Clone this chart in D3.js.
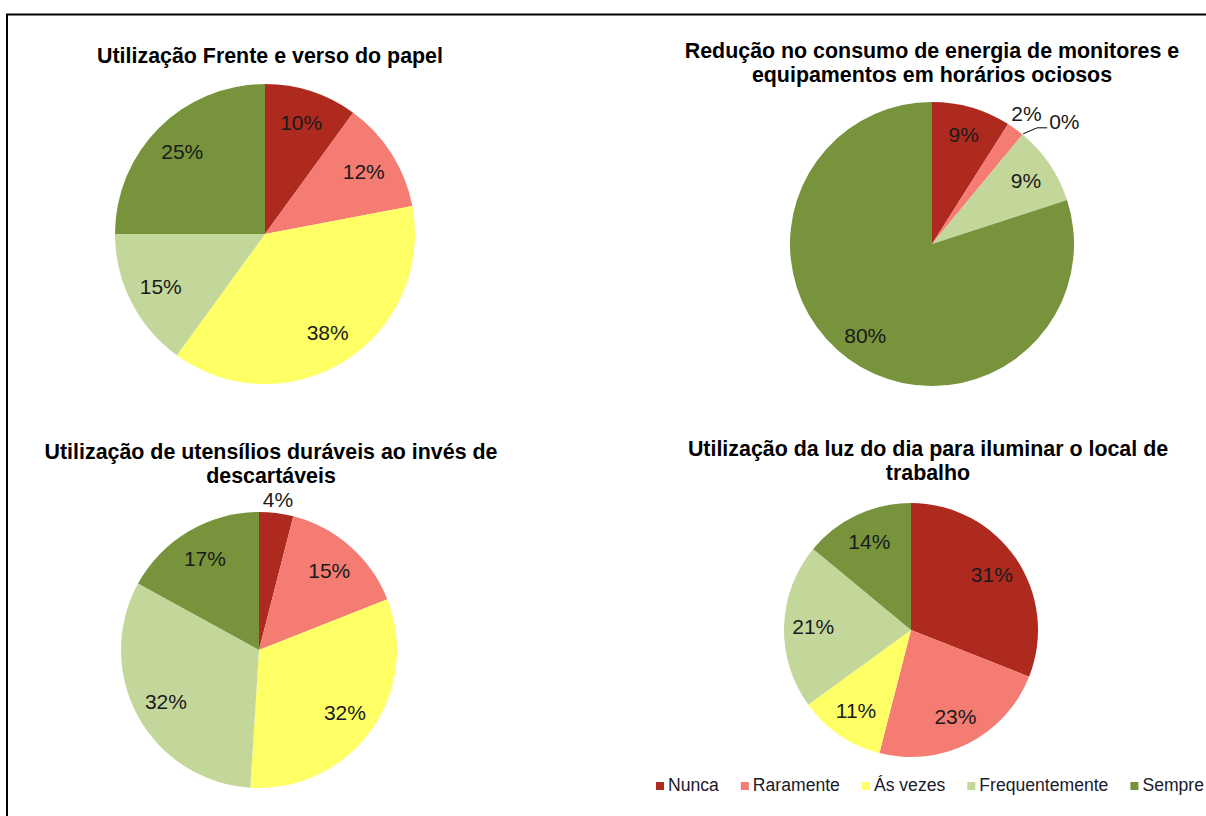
<!DOCTYPE html>
<html>
<head>
<meta charset="utf-8">
<script src="https://cdn.jsdelivr.net/npm/d3@7"></script>
<style>
  body { margin: 0; background: #fff; }
  text { font-family: "Liberation Sans", Arial, sans-serif; }
</style>
</head>
<body>
<div id="chart"></div>
<script>
// categories and colours shared by all four pies
const categories = ["Nunca", "Raramente", "Ás vezes", "Frequentemente", "Sempre"];
const colors = ["#AE2A1F", "#F47C72", "#FFFF66", "#C4D79B", "#77933C"];

const chartTitles = [
    ["Utilização Frente e verso do papel"],
    ["Redução no consumo de energia de monitores e", "equipamentos em horários ociosos"],
    ["Utilização de utensílios duráveis ao invés de", "descartáveis"],
    ["Utilização da luz do dia para iluminar o local de", "trabalho"]
];

// percentages, in category order
const valuesPapel = [10, 12, 38, 15, 25];
const valuesEnergia = [9, 2, 0, 9, 80];
const valuesUtensilios = [4, 15, 32, 32, 17];
const valuesLuz = [31, 23, 11, 21, 14];
const allValues = [valuesPapel, valuesEnergia, valuesUtensilios, valuesLuz];

const width = 1206, height = 816;

// where each pie sits on the page
const layout = [
    {cx: 265, cy: 234, r: 150, lr: 0.78, tx: 270, ty: 63},
    {cx: 932, cy: 244, r: 142, lr: 0.8, tx: 932, ty: 58},
    {cx: 259, cy: 650, r: 138, lr: 0.77, tx: 271, ty: 459},
    {cx: 911, cy: 630, r: 127, lr: 0.77, tx: 928, ty: 456}
];

const svg = d3.select("#chart")
    .append("svg")
        .attr("width", width)
        .attr("height", height);

// outer frame (runs off the right and bottom edge like the original)
svg.append("rect")
    .attr("x", 7)
    .attr("y", 14.5)
    .attr("width", width + 20)
    .attr("height", height + 20)
    .attr("fill", "none")
    .attr("stroke", "#000")
    .attr("stroke-width", 2);

const pie = d3.pie()
    .sort(null)
    .value((d) => d);

const labelSize = 21;

allValues.forEach((values, i) => {
    const L = layout[i];
    const g = svg.append("g")
        .attr("transform", `translate(${L.cx},${L.cy})`);

    const arc = d3.arc().innerRadius(0).outerRadius(L.r);
    const labelArc = d3.arc().innerRadius(L.r * L.lr).outerRadius(L.r * L.lr);

    const arcs = pie(values);

    g.selectAll("path")
        .data(arcs)
        .join("path")
            .attr("d", arc)
            .attr("fill", (d, j) => colors[j]);

    arcs.forEach((d) => {
        const mid = (d.startAngle + d.endAngle) / 2;
        const sx = Math.sin(mid), sy = -Math.cos(mid);
        let x, y, anchor = "middle";
        if (d.data === 0) {
            // zero slice: label outside with a leader line
            const p0 = [sx * (L.r + 1), sy * (L.r + 1)];
            const p1 = [p0[0] + 14, p0[1] - 6];
            const p2 = [p1[0] + 10, p1[1]];
            g.append("polyline")
                .attr("points", [p0, p1, p2].map((p) => p.join(",")).join(" "))
                .attr("fill", "none")
                .attr("stroke", "#000")
                .attr("stroke-width", 1);
            x = p2[0] + 2;
            y = p2[1] - 6;
            anchor = "start";
        } else if (d.data < 5) {
            // small slice: label just outside the edge
            const rr = L.r + 3.5 + Math.abs(sx) * 15 + Math.abs(sy) * 8;
            x = sx * rr;
            y = sy * rr;
        } else {
            [x, y] = labelArc.centroid(d);
        }
        g.append("text")
            .attr("x", x)
            .attr("y", y)
            .attr("dy", "0.35em")
            .attr("text-anchor", anchor)
            .attr("font-size", labelSize)
            .attr("fill", "#1a1a1a")
            .text(d.data + "%");
    });

    svg.append("text")
        .attr("x", L.tx)
        .attr("y", L.ty)
        .attr("text-anchor", "middle")
        .attr("font-size", 21.4)
        .attr("font-weight", "bold")
        .attr("fill", "#000")
        .selectAll("tspan")
        .data(chartTitles[i])
        .join("tspan")
            .attr("x", L.tx)
            .attr("dy", (d, j) => j === 0 ? 0 : 24)
            .text((d) => d);
});

// legend along the bottom
const legend = svg.append("g");
let lx = 656;
categories.forEach((c, j) => {
    legend.append("rect")
        .attr("x", lx)
        .attr("y", 782)
        .attr("width", 8)
        .attr("height", 8)
        .attr("fill", colors[j]);
    const t = legend.append("text")
        .attr("x", lx + 12)
        .attr("y", 791)
        .attr("font-size", 17.6)
        .attr("fill", "#1a1a2a")
        .text(c);
    lx += 12 + t.node().getComputedTextLength() + 22;
});
</script>
</body>
</html>
